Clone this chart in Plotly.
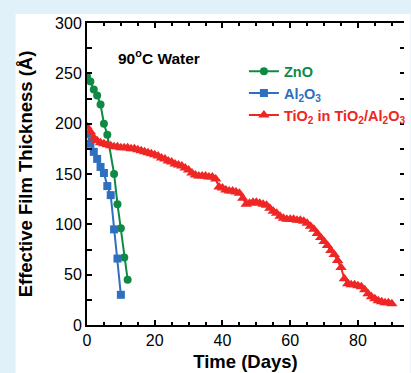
import plotly.graph_objects as go

# ---- data ----
zno_days = [0, 1, 2, 3, 4, 5, 6, 8, 9, 10, 11, 12]
zno_thk = [247, 242, 234, 228, 219, 200, 189, 150, 120, 96, 67, 45]

al_days = [0, 1, 2, 3, 4, 5, 6, 7, 8, 9, 10]
al_thk = [190, 180, 172, 165, 157, 151, 138, 129, 95, 66, 30]

tio_days = list(range(0, 91))
tio_thk = [197, 192, 186, 183, 181, 180, 179, 178, 177, 177,
           176, 176, 176, 175, 175, 174, 173, 172, 171, 170,
           169, 168, 166, 165, 163, 162, 160, 159, 158, 156,
           154, 151, 149, 148, 148, 148, 147, 147, 145, 137,
           136, 134, 133, 133, 132, 131, 126, 120, 121, 122,
           122, 121, 120, 119, 116, 113, 111, 108, 106, 105,
           105, 105, 104, 104, 103, 101, 98, 95, 91, 87,
           83, 79, 74, 70, 64, 57, 46, 41, 40, 40,
           39, 38, 35, 31, 28, 26, 24, 23, 22, 22, 21]

GREEN = "#0e8a45"
BLUE = "#2f6fbf"
RED = "#ee2624"
FONT = "Liberation Sans, Arial, sans-serif"

fig = go.Figure()
fig.add_trace(go.Scatter(x=zno_days, y=zno_thk, mode="lines+markers",
                         name=f"<span style='color:{GREEN}'><b>ZnO</b></span>",
                         line=dict(color=GREEN, width=2),
                         marker=dict(symbol="circle", size=8, color=GREEN)))
fig.add_trace(go.Scatter(x=al_days, y=al_thk, mode="lines+markers",
                         name=f"<span style='color:{BLUE}'><b>Al<sub>2</sub>O<sub>3</sub></b></span>",
                         line=dict(color=BLUE, width=2),
                         marker=dict(symbol="square", size=8, color=BLUE)))
fig.add_trace(go.Scatter(x=tio_days, y=tio_thk, mode="lines+markers",
                         name=f"<span style='color:{RED}'><b>TiO<sub>2</sub> in TiO<sub>2</sub>/Al<sub>2</sub>O<sub>3</sub></b></span>",
                         line=dict(color=RED, width=2),
                         marker=dict(symbol="triangle-up", size=10, color=RED)))

# invisible trace on right axis for mirrored right ticks
fig.add_trace(go.Scatter(x=[None], y=[None], yaxis="y2", showlegend=False, hoverinfo="skip"))

fig.update_layout(
    width=411, height=373,
    margin=dict(l=87, r=0, t=23, b=48),
    paper_bgcolor="#e0f1fa",
    plot_bgcolor="white",
    font=dict(family=FONT, size=16, color="black"),
    showlegend=True,
    legend=dict(x=0.495, y=0.893, xanchor="left", yanchor="top",
                bgcolor="rgba(0,0,0,0)", font=dict(size=14.5, family=FONT),
                tracegroupgap=0, itemwidth=30),
    xaxis=dict(range=[0, 93.6], showline=True, linecolor="black", linewidth=2,
               mirror="ticks", ticks="inside", ticklen=5, tickwidth=2, tickcolor="black",
               tickvals=[0, 20, 40, 60, 80], showgrid=False, zeroline=False,
               tickfont=dict(size=16),
               minor=dict(dtick=5, tick0=0, ticks="inside", ticklen=3, tickwidth=2, tickcolor="black"),
               title=dict(text="<b>Time (Days)</b>", font=dict(size=18.5), standoff=7)),
    yaxis=dict(range=[0, 300], showline=True, linecolor="black", linewidth=2,
               ticks="inside", ticklen=5, tickwidth=2, tickcolor="black",
               dtick=50, showgrid=False, zeroline=False,
               tickfont=dict(size=16),
               minor=dict(dtick=25, tick0=0, ticks="inside", ticklen=5, tickwidth=2, tickcolor="black"),
               title=dict(text="<b>Effective Film Thickness (Å)</b>", font=dict(size=18.5), standoff=18)),
    yaxis2=dict(range=[0, 300], overlaying="y", side="right", showline=False,
                ticks="inside", ticklen=4, tickwidth=2, tickcolor="black",
                dtick=50, showticklabels=False, showgrid=False, zeroline=False,
                minor=dict(dtick=25, tick0=0, ticks="inside", ticklen=4, tickwidth=2, tickcolor="black")),
    shapes=[dict(type="rect", xref="paper", yref="paper",
                 x0=-0.2253, x1=1.02, y0=-0.2, y1=1.0298,
                 fillcolor="white", line=dict(width=0), layer="below")],
    annotations=[dict(text="<b>90<sup>o</sup>C Water</b>", xref="paper", yref="paper",
                      x=(161 - 87) / 324, y=(325 - 57) / 302, xanchor="center", yanchor="middle",
                      showarrow=False, font=dict(size=15.5))],
)

fig.write_html("out.html")
